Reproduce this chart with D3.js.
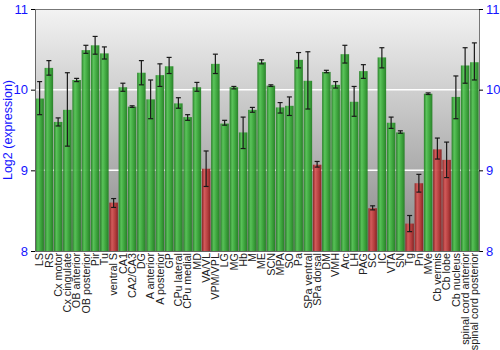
<!DOCTYPE html>
<html>
<head>
<meta charset="utf-8">
<script src="https://cdn.jsdelivr.net/npm/d3@7/dist/d3.min.js"></script>
<style>
  html, body { margin: 0; padding: 0; background: #fff; }
  svg { display: block; font-family: "Liberation Sans", Arial, sans-serif; }
</style>
</head>
<body>
<svg id="chart" width="500" height="350"></svg>
<script>
// Brain regions
const regions = ["LS", "RS", "Cx motor", "Cx cingulate", "OB anterior", "OB posterior", "Pir", "Tu",
  "ventral S", "CA1", "CA2/CA3", "DG", "A anterior", "A posterior", "GP", "CPu lateral", "CPu medial",
  "MD", "VA/VL", "VPM/VPL", "LG", "MG", "Hb", "M", "ME", "SCN", "MPA", "SO", "Pa", "SPa ventral",
  "SPa dorsal", "DM", "VMH", "Arc", "LH", "PAG", "SC", "IC", "VTA", "SN", "Tg", "Pn", "MVe",
  "Cb vermis", "Cb lobe", "Cb nucleus", "spinal cord anterior", "spinal cord posterior"];

// Mean log2 expression per region
const expression = [9.89, 10.27, 9.60, 9.75, 10.12, 10.49, 10.55, 10.45,
  8.60, 10.03, 9.79, 10.21, 9.88, 10.18, 10.29, 9.83, 9.66,
  10.03, 9.02, 10.32, 9.58, 10.03, 9.47, 9.75, 10.34, 10.05, 9.78, 9.80, 10.37, 10.11,
  9.07, 10.22, 10.06, 10.44, 9.85, 10.23, 8.53, 10.40, 9.59, 9.47, 8.34, 8.84, 9.95,
  9.26, 9.13, 9.91, 10.30, 10.34];

// Error bar extents (low, high)
const errLow = [9.69, 10.18, 9.55, 9.30, 10.10, 10.45, 10.44, 10.38,
  8.54, 9.98, 9.78, 10.06, 9.64, 10.04, 10.20, 9.77, 9.62,
  9.98, 8.80, 10.20, 9.56, 10.01, 9.27, 9.72, 10.32, 10.04, 9.71, 9.68, 10.27, 9.76,
  9.04, 10.21, 10.02, 10.33, 9.67, 10.14, 8.51, 10.27, 9.52, 9.46, 8.24, 8.73, 9.94,
  9.14, 8.91, 9.64, 10.08, 10.12];
const errHigh = [10.10, 10.36, 9.65, 10.21, 10.14, 10.55, 10.66, 10.53,
  8.65, 10.08, 9.80, 10.36, 10.12, 10.32, 10.40, 9.90, 9.69,
  10.09, 9.24, 10.44, 9.62, 10.04, 9.66, 9.78, 10.37, 10.06, 9.84, 9.91, 10.46, 10.47,
  9.11, 10.24, 10.10, 10.55, 10.04, 10.31, 8.56, 10.52, 9.66, 9.49, 8.44, 8.95, 9.96,
  9.40, 9.35, 10.17, 10.52, 10.58];

// Regions flagged as low expression (drawn red)
const lowRegions = ["ventral S", "VA/VL", "SPa dorsal", "SC", "Tg", "Pn", "Cb vermis", "Cb lobe"];

const yTicks = [8, 9, 10, 11];

const data = regions.map((r, i) => ({
  region: r, value: expression[i], lo: errLow[i], hi: errHigh[i], low: lowRegions.includes(r)
}));

const svg = d3.select("#chart");
const margin = { left: 35, right: 21, top: 9, bottom: 99 };
const W = 500, H = 350;
const plotW = W - margin.left - margin.right;
const plotH = H - margin.top - margin.bottom;

const x = d3.scaleBand().domain(regions).range([0, plotW]).paddingInner(0.08).paddingOuter(0.04);
const y = d3.scaleLinear().domain([8, 11]).range([plotH, 0]);

const defs = svg.append("defs");
const bg = defs.append("linearGradient").attr("id", "bgGrad").attr("x1", 0).attr("y1", 0).attr("x2", 0).attr("y2", 1);
bg.append("stop").attr("offset", "0%").attr("stop-color", "#f3f3f3");
bg.append("stop").attr("offset", "100%").attr("stop-color", "#888888");

function barGradient(id, dark, light, mid) {
  const g = defs.append("linearGradient").attr("id", id).attr("x1", 0).attr("y1", 0).attr("x2", 1).attr("y2", 0);
  g.append("stop").attr("offset", "0%").attr("stop-color", dark);
  g.append("stop").attr("offset", "30%").attr("stop-color", light);
  g.append("stop").attr("offset", "70%").attr("stop-color", mid);
  g.append("stop").attr("offset", "100%").attr("stop-color", dark);
}
barGradient("greenGrad", "#237d23", "#55c455", "#34a034");
barGradient("redGrad", "#861f1f", "#d65858", "#b43838");

const g = svg.append("g").attr("transform", `translate(${margin.left},${margin.top})`);

g.append("rect").attr("width", plotW).attr("height", plotH).attr("fill", "url(#bgGrad)");

// Horizontal gridlines at interior ticks
g.selectAll("line.grid").data(yTicks.filter(t => t > 8 && t < 11)).join("line")
  .attr("class", "grid")
  .attr("x1", 0).attr("x2", plotW)
  .attr("y1", d => y(d)).attr("y2", d => y(d))
  .attr("stroke", "#ffffff").attr("stroke-width", 1.5);

// Bars
g.selectAll("rect.bar").data(data).join("rect")
  .attr("class", "bar")
  .attr("x", d => x(d.region))
  .attr("width", x.bandwidth())
  .attr("y", d => y(d.value))
  .attr("height", d => plotH - y(d.value))
  .attr("fill", d => d.low ? "url(#redGrad)" : "url(#greenGrad)")
  .attr("opacity", 0.95);

// Error bars
const eb = g.selectAll("g.err").data(data).join("g").attr("class", "err")
  .attr("transform", d => `translate(${x(d.region) + x.bandwidth() / 2},0)`);
eb.append("line").attr("y1", d => y(d.lo)).attr("y2", d => y(d.hi))
  .attr("stroke", "#1a1a1a").attr("stroke-width", 1.2);
eb.append("line").attr("x1", -2.5).attr("x2", 2.5).attr("y1", d => y(d.hi)).attr("y2", d => y(d.hi))
  .attr("stroke", "#1a1a1a").attr("stroke-width", 1.2);
eb.append("line").attr("x1", -2.5).attr("x2", 2.5).attr("y1", d => y(d.lo)).attr("y2", d => y(d.lo))
  .attr("stroke", "#1a1a1a").attr("stroke-width", 1.2);

// Plot frame: top line
g.append("line").attr("x1", 0).attr("x2", plotW).attr("y1", 0.5).attr("y2", 0.5).attr("stroke", "#777");

// Left axis
const yAxisL = g.append("g").call(d3.axisLeft(y).tickValues(yTicks).tickFormat(d3.format("d")).tickSize(4).tickPadding(3));
yAxisL.select(".domain").attr("stroke", "#666");
yAxisL.selectAll(".tick line").attr("stroke", "#000");
yAxisL.selectAll("text").attr("fill", "#1414ff").attr("font-size", 13);

// Right axis
const yAxisR = g.append("g").attr("transform", `translate(${plotW},0)`)
  .call(d3.axisRight(y).tickValues(yTicks).tickFormat(d3.format("d")).tickSize(4).tickPadding(3));
yAxisR.select(".domain").attr("stroke", "#777");
yAxisR.selectAll(".tick line").attr("stroke", "#000");
yAxisR.selectAll("text").attr("fill", "#1414ff").attr("font-size", 13);

// Region labels, rotated
const xAxis = g.append("g").attr("transform", `translate(0,${plotH})`)
  .call(d3.axisBottom(x).tickSize(0).tickPadding(3));
xAxis.select(".domain").attr("stroke", "#666");
xAxis.selectAll("text")
  .attr("transform", "rotate(-90)")
  .attr("text-anchor", "end")
  .attr("x", -2).attr("y", 0).attr("dy", "0.35em")
  .attr("fill", "#222").attr("font-size", 10.8);

// Y axis title
svg.append("text")
  .attr("transform", `translate(12,${margin.top + plotH / 2}) rotate(-90)`)
  .attr("text-anchor", "middle")
  .attr("fill", "#1414ff")
  .attr("font-size", 12.5)
  .text("Log2 (expression)");
</script>
</body>
</html>
